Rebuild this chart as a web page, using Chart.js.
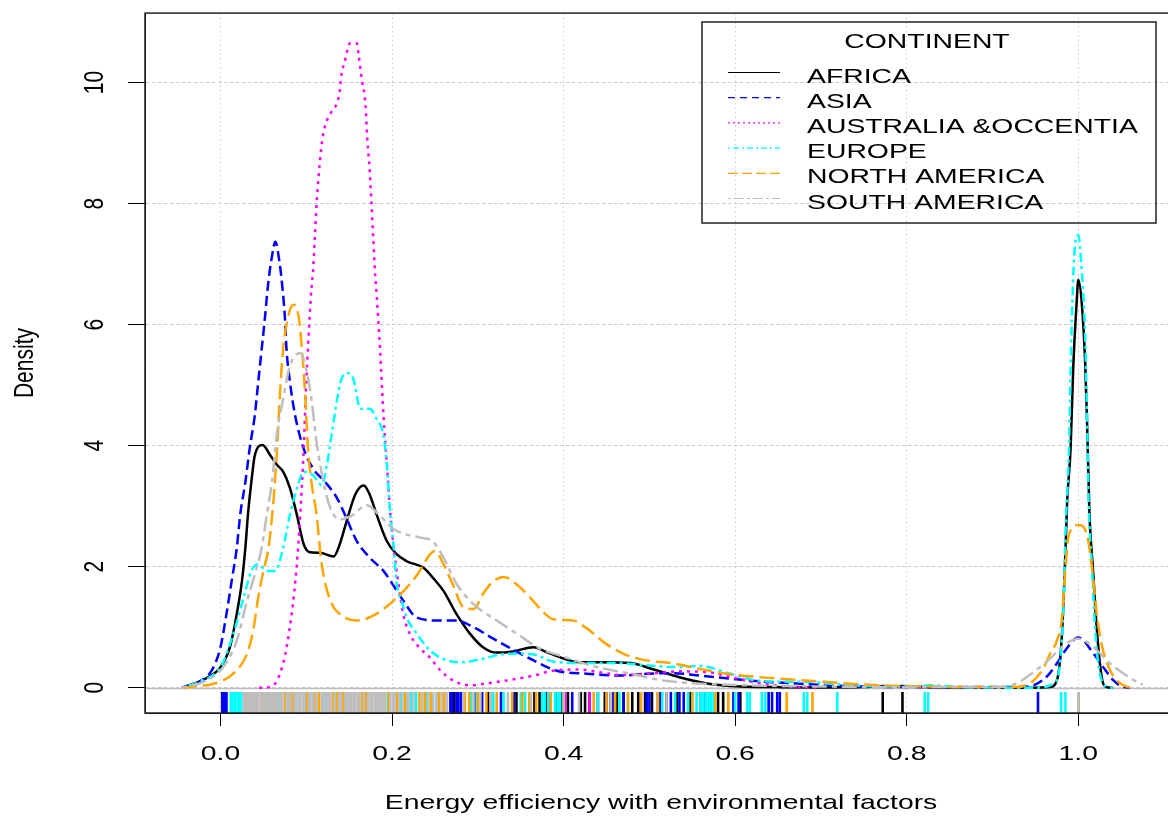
<!DOCTYPE html>
<html>
<head>
<meta charset="utf-8">
<script src="https://cdn.jsdelivr.net/npm/chart.js@4.4.1/dist/chart.umd.min.js"></script>
<style>
  html, body { margin: 0; padding: 0; background: #fff; overflow: hidden; }
  #wrap { width: 1185px; height: 817px; }
</style>
</head>
<body>
<div id="wrap"><canvas id="c" width="1185" height="817"></canvas></div>
<script>
const continents = ['AFRICA', 'ASIA', 'AUSTRALIA &OCCENTIA', 'EUROPE', 'NORTH AMERICA', 'SOUTH AMERICA']
const colors = ['#000000', '#0000FF', '#FF00FF', '#00FFFF', '#FFA500', '#BEBEBE']

const xTickValues = [0, 0.2, 0.4, 0.6, 0.8, 1.0]
const xTickLabels = ['0.0', '0.2', '0.4', '0.6', '0.8', '1.0']
const yTickValues = [0, 2, 4, 6, 8, 10]
const yTickLabels = ['0', '2', '4', '6', '8', '10']

// density curves: [value, density]
// prettier-ignore
const africa = [
  [-0.045, 0], [-0.016, 0.16], [0.0, 0.34], [0.011, 0.67], [0.019, 1.22], [0.025, 1.76], [0.029, 2.31],
  [0.032, 2.86], [0.036, 3.4], [0.04, 3.84], [0.049, 4.01], [0.058, 3.84], [0.066, 3.68], [0.073, 3.57],
  [0.081, 3.3], [0.089, 2.86], [0.097, 2.37], [0.104, 2.24], [0.116, 2.23], [0.132, 2.17], [0.139, 2.37],
  [0.147, 2.75], [0.157, 3.19], [0.167, 3.34], [0.174, 3.19], [0.182, 2.86], [0.194, 2.42], [0.205, 2.21],
  [0.217, 2.09], [0.237, 1.98], [0.248, 1.81], [0.26, 1.6], [0.275, 1.22], [0.291, 0.89], [0.306, 0.67],
  [0.322, 0.58], [0.341, 0.6], [0.365, 0.67], [0.38, 0.59], [0.4, 0.48], [0.419, 0.42], [0.443, 0.42],
  [0.478, 0.41], [0.505, 0.3], [0.536, 0.17], [0.567, 0.07], [0.606, 0.02], [0.65, 0.01], [0.7, 0.005],
  [0.75, 0.01], [0.772, 0.03], [0.785, 0.02], [0.795, 0.03], [0.82, 0.01], [0.9, 0], [0.95, 0],
  [0.967, 0.01], [0.975, 0.12], [0.981, 0.89], [0.985, 2.26], [0.987, 3.08], [0.991, 3.95], [0.994, 5.26],
  [0.998, 6.36], [1.0, 6.74], [1.004, 6.36], [1.008, 5.37], [1.01, 4.5], [1.013, 2.86], [1.017, 1.98],
  [1.022, 0.89], [1.028, 0.12], [1.033, 0.01], [1.04, 0],
]
// prettier-ignore
const asia = [
  [-0.045, 0], [-0.039, 0.02], [-0.024, 0.1], [-0.01, 0.29], [0.0, 0.67], [0.007, 1.22], [0.013, 1.76],
  [0.019, 2.31], [0.023, 2.86], [0.029, 3.4], [0.034, 3.95], [0.04, 4.5], [0.044, 5.05], [0.048, 5.59],
  [0.052, 6.14], [0.055, 6.6], [0.06, 7.13], [0.064, 7.37], [0.069, 7.01], [0.072, 6.64], [0.075, 6.14],
  [0.077, 5.59], [0.081, 5.05], [0.087, 4.5], [0.097, 3.95], [0.108, 3.62], [0.122, 3.4], [0.136, 3.13],
  [0.145, 2.86], [0.159, 2.42], [0.174, 2.15], [0.19, 1.93], [0.202, 1.68], [0.213, 1.44], [0.229, 1.16],
  [0.256, 1.11], [0.275, 1.11], [0.295, 1.0], [0.318, 0.81], [0.341, 0.63], [0.365, 0.45], [0.392, 0.28],
  [0.427, 0.23], [0.466, 0.2], [0.497, 0.23], [0.528, 0.24], [0.559, 0.2], [0.594, 0.15], [0.633, 0.1],
  [0.672, 0.07], [0.707, 0.04], [0.75, 0.02], [0.8, 0.01], [0.85, 0.01], [0.9, 0.01], [0.94, 0.02],
  [0.948, 0.04], [0.963, 0.18], [0.975, 0.4], [0.985, 0.62], [1.0, 0.83], [1.018, 0.56], [1.029, 0.34],
  [1.041, 0.12], [1.053, 0.01], [1.06, 0],
]
// prettier-ignore
const australia = [
  [0.045, 0], [0.058, 0.01], [0.073, 0.4], [0.083, 1.22], [0.089, 2.04], [0.093, 2.86], [0.097, 3.95],
  [0.1, 5.05], [0.104, 6.14], [0.106, 6.6], [0.108, 6.9], [0.11, 7.45], [0.112, 8.0], [0.114, 8.38],
  [0.116, 8.71], [0.119, 9.09], [0.124, 9.37], [0.13, 9.53], [0.136, 9.67], [0.139, 9.86], [0.141, 10.13],
  [0.145, 10.35], [0.151, 10.65], [0.159, 10.65], [0.161, 10.46], [0.165, 10.02], [0.169, 9.64],
  [0.171, 9.09], [0.174, 8.54], [0.176, 8.0], [0.178, 7.45], [0.18, 6.9], [0.182, 6.5], [0.186, 5.59],
  [0.19, 4.5], [0.194, 3.68], [0.198, 2.86], [0.202, 2.31], [0.207, 1.76], [0.213, 1.22], [0.221, 0.88],
  [0.232, 0.66], [0.244, 0.5], [0.256, 0.29], [0.271, 0.12], [0.291, 0.04], [0.31, 0.07], [0.334, 0.12],
  [0.365, 0.2], [0.392, 0.29], [0.419, 0.3], [0.44, 0.26], [0.466, 0.21], [0.497, 0.23], [0.536, 0.27],
  [0.567, 0.26], [0.6, 0.16], [0.63, 0.07], [0.66, 0.02], [0.7, 0],
]
// prettier-ignore
const europe = [
  [-0.045, 0], [-0.024, 0.1], [0.0, 0.34], [0.015, 0.89], [0.027, 1.49], [0.036, 1.93], [0.044, 2.04],
  [0.054, 1.93], [0.064, 1.93], [0.073, 2.31], [0.081, 2.86], [0.089, 3.29], [0.097, 3.57], [0.108, 3.51],
  [0.118, 3.35], [0.124, 3.68], [0.13, 4.22], [0.136, 4.77], [0.141, 5.1], [0.147, 5.2], [0.155, 5.1],
  [0.163, 4.61], [0.174, 4.61], [0.182, 4.44], [0.19, 4.17], [0.194, 3.68], [0.198, 2.86], [0.202, 2.31],
  [0.205, 1.76], [0.211, 1.44], [0.217, 1.16], [0.229, 0.89], [0.244, 0.62], [0.264, 0.45], [0.283, 0.42],
  [0.306, 0.48], [0.334, 0.56], [0.349, 0.56], [0.365, 0.55], [0.388, 0.43], [0.419, 0.41], [0.458, 0.41],
  [0.497, 0.37], [0.536, 0.34], [0.559, 0.36], [0.594, 0.23], [0.625, 0.12], [0.652, 0.1], [0.684, 0.1],
  [0.707, 0.07], [0.75, 0.03], [0.8, 0.02], [0.827, 0.04], [0.86, 0.01], [0.95, 0], [0.971, 0.07],
  [0.979, 0.45], [0.983, 1.44], [0.985, 2.53], [0.989, 3.9], [0.991, 5.26], [0.993, 6.36], [0.996, 7.29],
  [1.0, 7.48], [1.004, 6.9], [1.008, 5.81], [1.01, 4.61], [1.012, 3.08], [1.016, 1.98], [1.02, 0.89],
  [1.026, 0.18], [1.035, 0.01], [1.04, 0],
]
// prettier-ignore
const northAmerica = [
  [-0.045, 0], [-0.036, 0.01], [0.003, 0.12], [0.019, 0.29], [0.031, 0.56], [0.038, 0.94], [0.044, 1.49],
  [0.05, 1.93], [0.056, 2.31], [0.062, 3.13], [0.066, 3.95], [0.069, 4.77], [0.073, 5.59], [0.079, 6.14],
  [0.085, 6.33], [0.091, 6.14], [0.095, 5.59], [0.099, 4.77], [0.102, 3.95], [0.106, 3.4], [0.112, 2.86],
  [0.118, 2.04], [0.128, 1.44], [0.139, 1.22], [0.159, 1.11], [0.178, 1.19], [0.205, 1.48], [0.23, 1.88],
  [0.244, 2.2], [0.25, 2.26], [0.26, 2.04], [0.271, 1.7], [0.283, 1.33], [0.295, 1.3], [0.306, 1.55],
  [0.318, 1.76], [0.33, 1.83], [0.345, 1.71], [0.361, 1.49], [0.373, 1.3], [0.388, 1.13], [0.411, 1.11],
  [0.427, 0.98], [0.45, 0.72], [0.47, 0.56], [0.493, 0.46], [0.528, 0.4], [0.559, 0.31], [0.59, 0.23],
  [0.633, 0.17], [0.691, 0.11], [0.73, 0.07], [0.769, 0.04], [0.82, 0.02], [0.88, 0.01], [0.928, 0.01],
  [0.948, 0.12], [0.96, 0.34], [0.967, 0.56], [0.975, 0.78], [0.981, 1.16], [0.985, 1.98], [0.989, 2.53],
  [1.0, 2.69], [1.01, 2.53], [1.016, 1.98], [1.022, 1.16], [1.028, 0.67], [1.037, 0.29], [1.049, 0.07],
  [1.06, 0],
]
// prettier-ignore
const southAmerica = [
  [-0.045, 0], [-0.016, 0.12], [0.003, 0.34], [0.019, 0.78], [0.031, 1.44], [0.04, 1.87], [0.048, 2.31],
  [0.054, 2.86], [0.06, 3.4], [0.066, 4.22], [0.073, 4.77], [0.081, 5.32], [0.093, 5.53], [0.1, 5.26],
  [0.106, 4.77], [0.112, 4.06], [0.12, 3.4], [0.128, 2.97], [0.139, 2.78], [0.155, 2.86], [0.17, 3.02],
  [0.186, 2.84], [0.202, 2.62], [0.217, 2.53], [0.233, 2.48], [0.248, 2.41], [0.26, 2.15], [0.275, 1.72],
  [0.295, 1.38], [0.322, 1.11], [0.349, 0.86], [0.369, 0.67], [0.4, 0.51], [0.439, 0.34], [0.478, 0.23],
  [0.516, 0.12], [0.555, 0.07], [0.614, 0.04], [0.7, 0.02], [0.8, 0.01], [0.9, 0.01], [0.928, 0.07],
  [0.948, 0.26], [0.967, 0.48], [0.983, 0.7], [1.0, 0.81], [1.018, 0.67], [1.037, 0.4], [1.053, 0.23],
  [1.068, 0.1], [1.075, 0.05],
]

// rug: observed values per continent
// prettier-ignore
const africaRug = [
  0.003, 0.005, 0.272, 0.312, 0.345, 0.366, 0.372, 0.38, 0.392, 0.398, 0.405, 0.42, 0.425, 0.43, 0.44,
  0.448, 0.455, 0.462, 0.47, 0.48, 0.487, 0.495, 0.503, 0.51, 0.52, 0.532, 0.548, 0.58, 0.586, 0.606,
  0.772, 0.795, 1.0,
]
// prettier-ignore
const asiaRug = [
  0.002, 0.004, 0.007, 0.268, 0.27, 0.275, 0.277, 0.28, 0.296, 0.305, 0.327, 0.342, 0.36, 0.385, 0.41,
  0.45, 0.458, 0.47, 0.49, 0.497, 0.5, 0.512, 0.525, 0.535, 0.54, 0.56, 0.565, 0.598, 0.604, 0.639,
  0.643, 0.649, 0.652, 0.953, 1.0,
]
const australiaRug = [0.402, 0.43, 1.0]
// prettier-ignore
const europeRug = [
  0.012, 0.014, 0.017, 0.02, 0.023, 0.026, 0.061, 0.067, 0.1, 0.123, 0.135, 0.195, 0.21, 0.216, 0.222,
  0.228, 0.24, 0.252, 0.292, 0.299, 0.318, 0.33, 0.35, 0.355, 0.375, 0.378, 0.382, 0.39, 0.393, 0.396,
  0.44, 0.465, 0.475, 0.515, 0.53, 0.545, 0.55, 0.555, 0.56, 0.563, 0.566, 0.569, 0.572, 0.575, 0.6,
  0.614, 0.617, 0.631, 0.635, 0.68, 0.684, 0.719, 0.821, 0.825, 0.98, 0.985, 1.0,
]
// prettier-ignore
const northAmericaRug = [
  0.03, 0.036, 0.043, 0.05, 0.056, 0.063, 0.07, 0.075, 0.084, 0.101, 0.11, 0.115, 0.131, 0.136, 0.143,
  0.165, 0.17, 0.196, 0.206, 0.215, 0.232, 0.238, 0.245, 0.255, 0.261, 0.285, 0.29, 0.3, 0.31, 0.322,
  0.34, 0.352, 0.36, 0.368, 0.385, 0.4, 0.435, 0.45, 0.46, 0.475, 0.49, 0.51, 0.55, 0.577, 0.592, 0.66,
  0.69, 1.0,
]
// prettier-ignore
const southAmericaRug = [
  0.027, 0.029, 0.032, 0.034, 0.037, 0.039, 0.041, 0.044, 0.047, 0.049, 0.052, 0.054, 0.057, 0.059,
  0.061, 0.064, 0.066, 0.069, 0.072, 0.077, 0.079, 0.081, 0.086, 0.088, 0.091, 0.093, 0.096, 0.098,
  0.103, 0.105, 0.108, 0.112, 0.118, 0.121, 0.124, 0.126, 0.128, 0.133, 0.138, 0.14, 0.145, 0.147,
  0.15, 0.152, 0.155, 0.157, 0.16, 0.162, 0.167, 0.172, 0.175, 0.177, 0.18, 0.182, 0.185, 0.187, 0.19,
  0.192, 0.198, 0.201, 0.203, 0.208, 0.212, 0.218, 0.22, 0.225, 0.235, 0.242, 0.248, 0.252, 0.258,
  0.264, 0.283, 0.295, 0.303, 0.315, 0.335, 0.362, 0.4, 0.418, 0.455, 0.52, 1.0,
]

const curves = [africa, asia, australia, europe, northAmerica, southAmerica]
const rugs = [africaRug, asiaRug, australiaRug, europeRug, northAmericaRug, southAmericaRug]

// line types (R: solid, dashed, dotted, dotdash, longdash, twodash)
const curveDash = [[], [10, 5], [3, 5], [3, 4, 9, 4], [15, 6], [5, 5, 15, 5]]
const legendDash = [[], [7, 5], [2, 3], [2, 3, 6, 3], [10, 4], [3, 3, 10, 3]]

const X_MIN = -0.088
const X_MAX = 1.1091
const Y_MIN = -0.418
const Y_MAX = 11.148
const RUG_Y = Y_MIN + (Y_MAX - Y_MIN) * 0.015

const SX = 1.35
const FONT = '21px "Liberation Sans", Arial, sans-serif'

function stretchedText(ctx, text, x, y, align, rotate) {
  ctx.save()
  ctx.translate(x, y)
  ctx.scale(SX, 1)
  if (rotate) ctx.rotate(-Math.PI / 2)
  ctx.font = FONT
  ctx.fillStyle = '#000'
  ctx.textAlign = align
  ctx.textBaseline = 'alphabetic'
  ctx.fillText(text, 0, 0)
  ctx.restore()
}

const rStyle = {
  id: 'rStyle',
  beforeDatasetsDraw(chart) {
    const { ctx, chartArea: a, scales } = chart
    const y0 = Math.round(scales.y.getPixelForValue(0)) + 0.5
    ctx.save()
    ctx.strokeStyle = '#BEBEBE'
    ctx.lineWidth = 1.5
    ctx.beginPath()
    ctx.moveTo(a.left, y0)
    ctx.lineTo(a.right, y0)
    ctx.stroke()
    ctx.restore()
  },
  afterDraw(chart) {
    const { ctx, chartArea: a, scales } = chart

    ctx.save()
    ctx.strokeStyle = '#222'
    ctx.lineWidth = 1.5
    ctx.strokeRect(a.left, a.top, a.right - a.left, a.bottom - a.top)
    ctx.restore()

    xTickValues.forEach((v, i) => {
      stretchedText(ctx, xTickLabels[i], scales.x.getPixelForValue(v), 760, 'center')
    })
    yTickValues.forEach((v, i) => {
      stretchedText(ctx, yTickLabels[i], 103, scales.y.getPixelForValue(v), 'center', true)
    })
    stretchedText(ctx, 'Energy efficiency with environmental factors', 661, 809, 'center')
    stretchedText(ctx, 'Density', 33, (a.top + a.bottom) / 2, 'center', true)

    // legend box
    ctx.save()
    ctx.strokeStyle = '#222'
    ctx.lineWidth = 1.5
    ctx.strokeRect(702, 22, 454, 201)
    ctx.restore()
    stretchedText(ctx, 'CONTINENT', 927, 48, 'center')
    continents.forEach((name, i) => {
      const ly = 72.5 + i * 25.2
      ctx.save()
      ctx.strokeStyle = colors[i]
      ctx.lineWidth = 1.2
      ctx.setLineDash(legendDash[i])
      ctx.beginPath()
      ctx.moveTo(728, ly)
      ctx.lineTo(780, ly)
      ctx.stroke()
      ctx.restore()
      stretchedText(ctx, name, 807, 82.5 + i * 25.2, 'left')
    })
  },
}

const datasets = []
continents.forEach((name, i) => {
  datasets.push({
    type: 'line',
    label: name,
    data: curves[i].map(([x, y]) => ({ x, y })),
    borderColor: colors[i],
    borderWidth: 2.5,
    borderDash: curveDash[i],
    pointRadius: 0,
    fill: false,
    cubicInterpolationMode: 'monotone',
    order: 6 - i,
  })
})
continents.forEach((name, i) => {
  datasets.push({
    type: 'scatter',
    label: name + ' rug',
    data: rugs[i].map((x) => ({ x, y: RUG_Y })),
    pointStyle: 'line',
    pointRotation: 90,
    pointRadius: 10.5,
    pointHoverRadius: 10.5,
    pointBorderWidth: 2.6,
    pointBorderColor: colors[i],
    pointBackgroundColor: colors[i],
    order: 20 - i,
  })
})

new Chart(document.getElementById('c'), {
  type: 'scatter',
  data: { datasets },
  plugins: [rStyle],
  options: {
    responsive: false,
    animation: false,
    devicePixelRatio: 1,
    layout: { padding: { top: 8, right: 4, left: 0, bottom: 0 } },
    plugins: { legend: { display: false }, tooltip: { enabled: false } },
    scales: {
      x: {
        type: 'linear',
        min: X_MIN,
        max: X_MAX,
        afterBuildTicks: (s) => {
          s.ticks = xTickValues.map((v) => ({ value: v }))
        },
        afterFit: (s) => {
          s.height = 104
        },
        ticks: { display: false },
        grid: { color: '#CCCCCC', lineWidth: 1, tickColor: '#000', tickLength: 13 },
        border: { display: true, color: '#000', width: 1, dash: [1.5, 3] },
      },
      y: {
        type: 'linear',
        min: Y_MIN,
        max: Y_MAX,
        afterBuildTicks: (s) => {
          s.ticks = yTickValues.map((v) => ({ value: v }))
        },
        afterFit: (s) => {
          s.width = 145
        },
        ticks: { display: false },
        grid: { color: '#CCCCCC', lineWidth: 1, tickColor: '#000', tickLength: 17 },
        border: { display: true, color: '#000', width: 1, dash: [3.5, 2.5] },
      },
    },
  },
})
</script>
</body>
</html>
